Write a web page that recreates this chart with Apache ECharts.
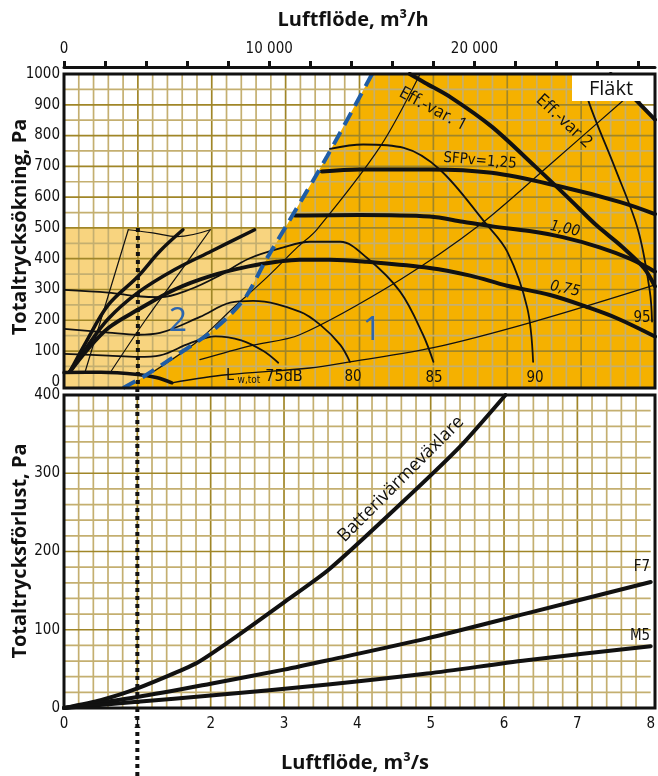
<!DOCTYPE html>
<html><head><meta charset="utf-8">
<script src="https://cdn.jsdelivr.net/npm/echarts@6/dist/echarts.min.js"></script>
<style>html,body{margin:0;padding:0;background:#fff}#c{width:658px;height:776px}</style>
</head><body><div id="c"></div>
<script>
// ================= DATA =================
// axes
const flowTicks = [0, 1, 2, 3, 4, 5, 6, 7, 8];                 // m3/s
const flowM3hTicks = [0, 2000, 4000, 6000, 8000, 10000, 12000, 14000, 16000, 18000, 20000, 22000, 24000, 26000, 28000];
const flowM3hLabels = [0, 10000, 20000];
const fanPressureTicks = [0, 100, 200, 300, 400, 500, 600, 700, 800, 900, 1000];
const lossTicks = [0, 100, 200, 300, 400];

// upper chart: fan (Fläkt)
const regionBorder = [[0.80, -20], [1.07, 16], [1.43, 72], [1.94, 153], [2.25, 218], [2.48, 283], [2.72, 390], [3.02, 511], [3.56, 732], [4.17, 1000]];
const region2Top = 500;
const cornerLine = [[7.40, 1000], [8.0, 852]];

const fanSfp125 = [[3.49, 683], [4.0, 690], [4.95, 690], [5.79, 679], [6.69, 636], [7.53, 584], [8.0, 545]];
const fanSfp100 = [[3.13, 540], [4.0, 542], [4.95, 537], [5.4, 520], [5.8, 505], [6.3, 490], [6.75, 470], [7.25, 437], [7.66, 400], [8.0, 358]];
const fanSfp075 = [[0.08, 33], [0.3, 100], [0.6, 175], [1.0, 234], [1.5, 300], [2.0, 345], [2.5, 375], [2.88, 390], [3.19, 397], [3.6, 397], [4.1, 390], [4.95, 370], [5.5, 345], [6.0, 312], [6.58, 282], [7.08, 243], [7.5, 205], [8.0, 147]];
const fanSmallA = [[0.08, 33], [0.3, 130], [0.6, 250], [1.0, 342], [1.3, 425], [1.61, 494]];
const fanSmallB = [[0.08, 33], [0.3, 110], [0.6, 205], [1.0, 290], [1.5, 365], [2.0, 425], [2.58, 494]];
const fanBottom = [[0.0, 30], [0.5, 31], [1.0, 24], [1.25, 14], [1.46, -3]];
const effVar1 = [[4.68, 1000], [4.89, 971], [5.23, 925], [5.79, 829], [6.38, 699], [6.85, 592], [7.2, 510], [7.55, 440], [7.85, 370], [8.0, 310]];

const smallLimitLeft = [[0.28, 28], [0.87, 494]];
const smallLimitRight = [[0.62, 28], [1.1, 200], [1.55, 350], [1.98, 494]];
const smallLimitTop = [[0.87, 494], [1.2, 484], [1.53, 472], [1.98, 494]];

const lw75 = [[0, 91], [0.6, 85], [1.0, 81], [1.3, 86], [1.7, 125], [2.05, 148], [2.4, 135], [2.7, 100], [2.9, 62]];
const lw80 = [[0, 172], [0.6, 160], [1.0, 153], [1.3, 159], [1.84, 211], [2.25, 257], [2.56, 263], [3.19, 228], [3.47, 185], [3.74, 120], [3.87, 65]];
const lw85 = [[0, 299], [0.6, 290], [1.0, 278], [1.3, 275], [1.7, 300], [2.1, 345], [2.5, 400], [2.96, 436], [3.33, 455], [3.74, 455], [4.1, 403], [4.55, 293], [4.86, 153], [5.0, 65]];
const lw90 = [[3.6, 757], [4.05, 771], [4.6, 760], [5.09, 689], [5.70, 517], [6.0, 423], [6.27, 241], [6.35, 65]];
const lw95 = [[7.03, 1000], [7.10, 912], [7.45, 700], [7.77, 494], [7.93, 294], [7.96, 196]];
const lwBase = [[1.46, -3], [2.2, 23], [3.33, 45], [3.87, 65], [5.0, 111], [6.35, 195], [8.0, 315]];
const sysLine1 = [[1.21, 33], [1.8, 130], [2.29, 240], [2.75, 340], [3.15, 435], [3.42, 494], [4.28, 764], [4.82, 1000]];
const sysLine2 = [[1.84, 72], [2.52, 117], [3.19, 153], [4.55, 332], [5.63, 510], [6.58, 706], [7.55, 910], [7.95, 990]];

const designFlow = 1.0;   // dotted vertical line, m3/s

// lower chart: pressure loss
const lossBattery = [[0, 0], [0.5, 10], [1.0, 25], [1.8, 57], [2.3, 88], [3.0, 135], [3.6, 176], [4.5, 253], [5.4, 334], [6.02, 400]];
const lossF7 = [[0, 0], [1, 14], [2, 31], [3, 49], [3.6, 61], [4.95, 89], [6.31, 121], [8, 161]];
const lossM5 = [[0, 0], [1, 8], [2, 16], [3.6, 30], [4.95, 44], [6.31, 61], [8, 79]];

// ================= STYLE / BUILD =================
const C_ORANGE = '#F5B100', C_LIGHT = '#F8D47F', C_BLUE = '#1F5DA6', C_TEXT = '#111';
const C_GRID_D = '#A08628', C_GRID_L = '#C4AF70';
const NARROW = "'Liberation Sans Narrow','DejaVu Sans Condensed',sans-serif";
const SANS = "'Open Sans','Noto Sans','DejaVu Sans',sans-serif";

const U = {min: -20, max: 1000}, L = {min: 0, max: 400}, X = {min: 0, max: 8};

function borderXAt(y) {
  for (let i = 1; i < regionBorder.length; i++) {
    const a = regionBorder[i - 1], b = regionBorder[i];
    if (y >= a[1] && y <= b[1]) return a[0] + (b[0] - a[0]) * (y - a[1]) / (b[1] - a[1]);
  }
  return regionBorder[regionBorder.length - 1][0];
}
const region2Poly = [[0, U.min], ...regionBorder.filter(p => p[1] < region2Top), [borderXAt(region2Top), region2Top], [0, region2Top]];
const region1Poly = [...regionBorder, cornerLine[0], cornerLine[1], [X.max, U.min]];

function polySeries(poly, color, g) {
  return {type: 'custom', xAxisIndex: g, yAxisIndex: g, z: 0, silent: true, clip: true,
    data: [[poly[0][0], poly[0][1]]],
    renderItem: (p, api) => ({type: 'polygon', shape: {points: poly.map(q => api.coord(q))}, style: {fill: color}})};
}

// grid line segments [x0,y0,x1,y1,dark]
function gridSegs(yStep, yDarkStep, yMin, yMax) {
  const segs = [];
  for (let i = 1; i < 40; i++) {
    const x = i * 0.2;
    segs.push([x, yMin, x, yMax, (i % 5 === 0) ? 1 : 0]);
  }
  for (let y = yStep; y < yMax - 1e-6; y += yStep) {
    segs.push([X.min, y, X.max, y, (Math.abs(y % yDarkStep) < 1e-6) ? 1 : 0]);
  }
  return segs;
}
function gridSeries(segs, g) {
  return {type: 'custom', xAxisIndex: g, yAxisIndex: g, z: 1, silent: true, clip: true,
    data: segs, encode: {x: [0, 2], y: [1, 3]},
    renderItem: (p, api) => {
      const a = api.coord([api.value(0), api.value(1)]), b = api.coord([api.value(2), api.value(3)]);
      return {type: 'line', shape: {x1: a[0], y1: a[1], x2: b[0], y2: b[1]},
        style: {stroke: api.value(4) ? C_GRID_D : C_GRID_L, lineWidth: 1.7}};
    }};
}

function curve(data, g, w, smooth, extra) {
  return Object.assign({type: 'line', xAxisIndex: g, yAxisIndex: g, data: data, showSymbol: false, symbol: 'none',
    smooth: smooth, silent: true, z: 5, lineStyle: {color: C_TEXT, width: w, cap: 'round', join: 'round'}}, extra || {});
}

const series = [
  polySeries(region2Poly, C_LIGHT, 0),
  polySeries(region1Poly, C_ORANGE, 0),
  gridSeries(gridSegs(50, 100, U.min, U.max), 0),
  gridSeries(gridSegs(20, 100, L.min, L.max), 1),
  // thin lines
  curve(lw75, 0, 1.8, 0.35), curve(lw80, 0, 1.8, 0.35), curve(lw85, 0, 1.8, 0.35),
  curve(lw90, 0, 1.8, 0.35), curve(lw95, 0, 1.8, 0.35), curve(lwBase, 0, 1.3, 0.35),
  curve(sysLine1, 0, 1.2, 0.3), curve(sysLine2, 0, 1.2, 0.3),
  curve(smallLimitLeft, 0, 1.2, 0), curve(smallLimitRight, 0, 1.2, 0.3), curve(smallLimitTop, 0, 1.2, 0.4),
  // thick lines
  curve(fanSfp125, 0, 4, 0.35), curve(fanSfp100, 0, 4, 0.35), curve(fanSfp075, 0, 4, 0.35),
  curve(fanSmallA, 0, 3.5, 0.35), curve(fanSmallB, 0, 3.5, 0.35), curve(fanBottom, 0, 3.5, 0.35),
  curve(effVar1, 0, 4, 0.3), curve(cornerLine, 0, 4, 0),
  // region border (dashed blue)
  curve(regionBorder, 0, 4, 0.3, {z: 6, lineStyle: {color: C_BLUE, width: 4, type: [14, 8], cap: 'butt'}}),
  // dotted design flow
  curve([[designFlow, region2Top], [designFlow, U.min]], 0, 4, 0, {z: 7, lineStyle: {color: C_TEXT, width: 4, type: [4, 4], cap: 'butt'}}),
  curve([[designFlow, 409], [designFlow, -87]], 1, 4, 0, {z: 7, clip: false, lineStyle: {color: C_TEXT, width: 4, type: [4, 4], cap: 'butt'}}),
  // lower chart
  curve(lossBattery, 1, 4, 0.2), curve(lossF7, 1, 4, 0.3), curve(lossM5, 1, 4, 0.3)
];

const tickLabel = {fontFamily: NARROW, fontSize: 15, color: C_TEXT};
const plain = v => String(v);
const option = {
  animation: false,
  backgroundColor: '#fff',
  grid: [
    {left: 64, right: 3, top: 74, height: 314, containLabel: false},
    {left: 64, right: 3, top: 395, height: 313, containLabel: false}
  ],
  xAxis: [
    {type: 'value', gridIndex: 0, min: X.min, max: X.max, show: true, axisLine: {show: false}, axisTick: {show: false}, axisLabel: {show: false}, splitLine: {show: false}},
    {type: 'value', gridIndex: 1, min: X.min, max: X.max, interval: 1, axisLine: {show: false}, axisTick: {show: false}, splitLine: {show: false},
      axisLabel: Object.assign({margin: 9, customValues: flowTicks, formatter: plain}, tickLabel)},
    {type: 'value', gridIndex: 0, position: 'top', offset: 7, min: 0, max: 28800,
      axisLine: {show: true, lineStyle: {color: C_TEXT, width: 3}},
      axisTick: {show: true, length: 6, lineStyle: {color: C_TEXT, width: 3}, customValues: flowM3hTicks},
      axisLabel: Object.assign({margin: 10, customValues: flowM3hLabels, formatter: v => v === 0 ? '0' : (v / 1000) + ' 000'}, tickLabel),
      splitLine: {show: false}}
  ],
  yAxis: [
    {type: 'value', gridIndex: 0, min: U.min, max: U.max, axisLine: {show: false}, axisTick: {show: false}, splitLine: {show: false},
      axisLabel: Object.assign({margin: 4, customValues: fanPressureTicks, formatter: plain}, tickLabel)},
    {type: 'value', gridIndex: 1, min: L.min, max: L.max, axisLine: {show: false}, axisTick: {show: false}, splitLine: {show: false},
      axisLabel: Object.assign({margin: 4, customValues: lossTicks, formatter: plain}, tickLabel)}
  ],
  series: series,
  graphic: {elements: [
    // frames
    {type: 'rect', z: 100, shape: {x: 64, y: 74, width: 591, height: 314}, style: {fill: 'none', stroke: C_TEXT, lineWidth: 3}},
    {type: 'rect', z: 100, shape: {x: 64, y: 395, width: 591, height: 313}, style: {fill: 'none', stroke: C_TEXT, lineWidth: 3}},
    // Fläkt box
    {type: 'rect', z: 90, shape: {x: 572, y: 75, width: 83, height: 26}, style: {fill: '#fff'}},
    {type: 'text', z: 91, x: 611, y: 89, style: {text: 'Fläkt', fontFamily: SANS, fontSize: 20, fill: C_TEXT, align: 'center', verticalAlign: 'middle'}},
    // axis titles
    {type: 'text', z: 91, x: 353, y: 20, style: {text: 'Luftflöde, m³/h', fontFamily: SANS, fontWeight: 'bold', fontSize: 20, fill: C_TEXT, align: 'center', verticalAlign: 'middle'}},
    {type: 'text', z: 91, x: 355, y: 763, style: {text: 'Luftflöde, m³/s', fontFamily: SANS, fontWeight: 'bold', fontSize: 20, fill: C_TEXT, align: 'center', verticalAlign: 'middle'}},
    {type: 'text', z: 91, x: 20, y: 227, rotation: Math.PI / 2, style: {text: 'Totaltrycksökning, Pa', fontFamily: SANS, fontWeight: 'bold', fontSize: 20, fill: C_TEXT, align: 'center', verticalAlign: 'middle'}},
    {type: 'text', z: 91, x: 20, y: 551, rotation: Math.PI / 2, style: {text: 'Totaltrycksförlust, Pa', fontFamily: SANS, fontWeight: 'bold', fontSize: 20, fill: C_TEXT, align: 'center', verticalAlign: 'middle'}},
    // chart annotations
    {type: 'text', z: 91, x: 433, y: 109, rotation: -28 * Math.PI / 180, style: {text: 'Eff.-var. 1', fontFamily: SANS, fontSize: 17, fill: C_TEXT, align: 'center', verticalAlign: 'middle'}},
    {type: 'text', z: 91, x: 564, y: 121, rotation: -43 * Math.PI / 180, style: {text: 'Eff.-var 2', fontFamily: SANS, fontSize: 17, fill: C_TEXT, align: 'center', verticalAlign: 'middle'}},
    {type: 'text', z: 91, x: 480, y: 161, rotation: -5 * Math.PI / 180, style: {text: 'SFPv=1,25', fontFamily: NARROW, fontSize: 15, fill: C_TEXT, align: 'center', verticalAlign: 'middle'}},
    {type: 'text', z: 91, x: 565, y: 229, rotation: -12 * Math.PI / 180, style: {text: '1,00', fontFamily: NARROW, fontStyle: 'italic', fontSize: 15, fill: C_TEXT, align: 'center', verticalAlign: 'middle'}},
    {type: 'text', z: 91, x: 565, y: 289, rotation: -12 * Math.PI / 180, style: {text: '0,75', fontFamily: NARROW, fontStyle: 'italic', fontSize: 15, fill: C_TEXT, align: 'center', verticalAlign: 'middle'}},
    {type: 'text', z: 91, x: 642, y: 318, style: {text: '95', fontFamily: NARROW, fontSize: 15, fill: C_TEXT, align: 'center', verticalAlign: 'middle'}},
    {type: 'text', z: 91, x: 535, y: 378, style: {text: '90', fontFamily: NARROW, fontSize: 15, fill: C_TEXT, align: 'center', verticalAlign: 'middle'}},
    {type: 'text', z: 91, x: 434, y: 378, style: {text: '85', fontFamily: NARROW, fontSize: 15, fill: C_TEXT, align: 'center', verticalAlign: 'middle'}},
    {type: 'text', z: 91, x: 353, y: 377, style: {text: '80', fontFamily: NARROW, fontSize: 15, fill: C_TEXT, align: 'center', verticalAlign: 'middle'}},
    {type: 'text', z: 91, x: 230, y: 376, style: {text: 'L', fontFamily: NARROW, fontSize: 16, fill: C_TEXT, align: 'center', verticalAlign: 'middle'}},
    {type: 'text', z: 91, x: 249, y: 380, style: {text: 'w,tot', fontFamily: NARROW, fontSize: 10, fill: C_TEXT, align: 'center', verticalAlign: 'middle'}},
    {type: 'text', z: 91, x: 284, y: 377, style: {text: '75dB', fontFamily: NARROW, fontSize: 16, fill: C_TEXT, align: 'center', verticalAlign: 'middle'}},
    {type: 'text', z: 91, x: 372, y: 331, style: {text: '1', fontFamily: SANS, fontSize: 32, fill: '#2E66AD', align: 'center', verticalAlign: 'middle'}},
    {type: 'text', z: 91, x: 178, y: 322, style: {text: '2', fontFamily: SANS, fontSize: 32, fill: '#2E66AD', align: 'center', verticalAlign: 'middle'}},
    {type: 'text', z: 91, x: 401, y: 479, rotation: 45 * Math.PI / 180, style: {text: 'Batterivärmeväxlare', fontFamily: SANS, fontSize: 18, fill: C_TEXT, align: 'center', verticalAlign: 'middle'}},
    {type: 'text', z: 91, x: 642, y: 567, style: {text: 'F7', fontFamily: NARROW, fontSize: 15, fill: C_TEXT, align: 'center', verticalAlign: 'middle'}},
    {type: 'text', z: 91, x: 640, y: 636, style: {text: 'M5', fontFamily: NARROW, fontSize: 15, fill: C_TEXT, align: 'center', verticalAlign: 'middle'}}
  ]}
};
const chart = echarts.init(document.getElementById('c'), null, {renderer: 'canvas', width: 658, height: 776});
chart.setOption(option);
</script>
</body></html>
